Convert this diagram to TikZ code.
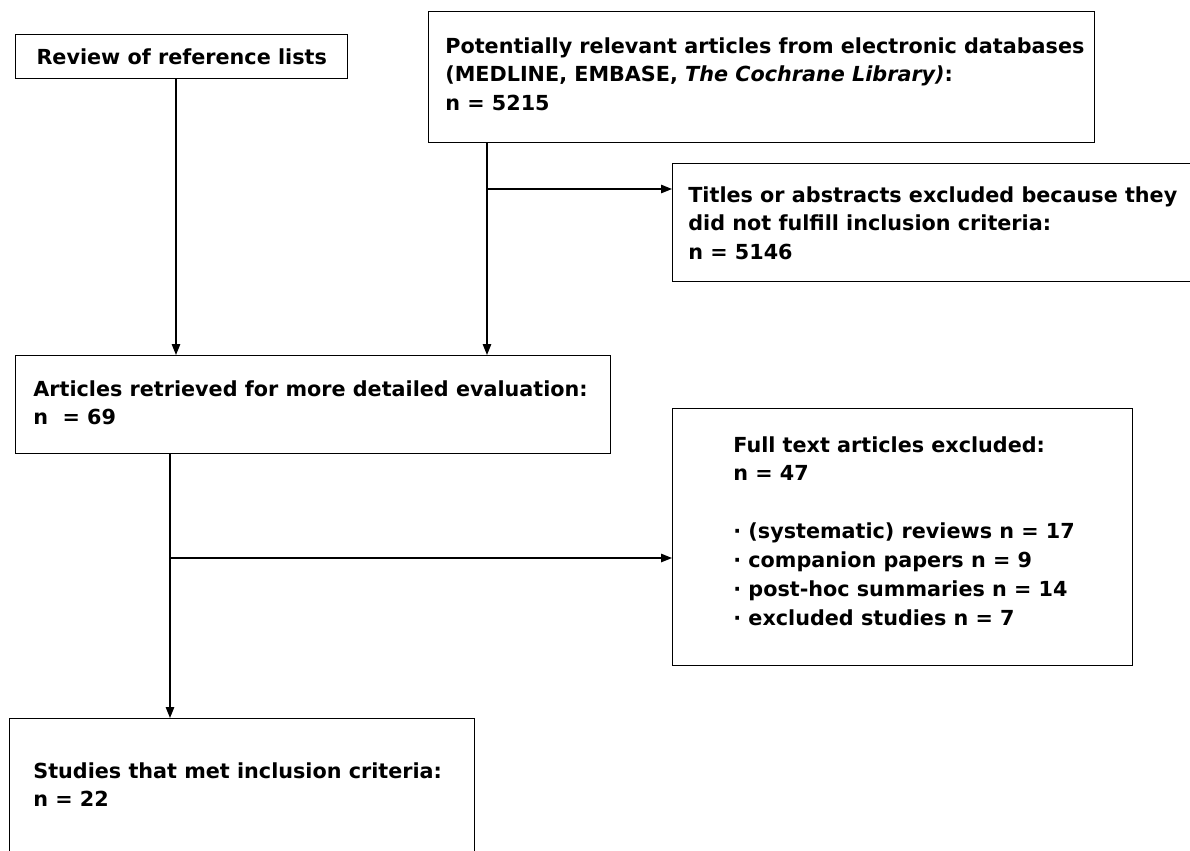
\documentclass[tikz,border=0pt]{standalone}
\usepackage{fontspec}
\setmainfont{DejaVu Sans}
\usepackage{tikz}
\usetikzlibrary{calc,arrows.meta,positioning}
\newcommand{\px}{0.02cm}
\tikzset{
  box/.style={draw=black,line width=0.8pt,inner sep=0pt,anchor=north west},
  txt/.style={anchor=north west,inner sep=0pt,align=left,font=\bfseries\fontsize{11.8}{16.4}\selectfont},
  ar/.style={-{Triangle[length=2.2mm,width=1.7mm]},line width=0.75pt}
}

\begin{document}
\begin{tikzpicture}[x=0.02cm,y=-0.02cm]
\useasboundingbox (0,0) rectangle (1190,850);
\clip (0,0) rectangle (1190,850);
% boxes
\node[box,minimum width=332*\px,minimum height=44*\px,font=\bfseries\fontsize{11.8}{16.4}\selectfont] (revw) at (15,34) {Review of reference lists};
\node[box,minimum width=666*\px,minimum height=131*\px] (srch) at (428,11) {};
\node[box,minimum width=540*\px,minimum height=118*\px] (titl) at (672,163) {};
\node[box,minimum width=595*\px,minimum height=98*\px] (arts) at (15,355) {};
\node[box,minimum width=460*\px,minimum height=257*\px] (full) at (672,408) {};
\node[box,minimum width=465*\px,minimum height=160*\px] (stud) at (9,718) {};
% texts
\node[txt] (srch-t) at ($(srch.north west)+(17,26)$) {Potentially relevant articles from electronic databases\\(MEDLINE, EMBASE, \textit{The Cochrane Library)}:\\n = 5215};
\node[txt] (titl-t) at ($(titl.north west)+(16,23)$) {Titles or abstracts excluded because they\\did not fulfill inclusion criteria:\\n = 5146};
\node[txt] (arts-t) at ($(arts.north west)+(18,25)$) {Articles retrieved for more detailed evaluation:\\n\ \ = 69};
\node[txt] (full-t) at ($(full.north west)+(61,28)$) {Full text articles excluded:\\n = 47\\[16.4pt]· (systematic) reviews n = 17\\· companion papers n = 9\\· post-hoc summaries n = 14\\· excluded studies n = 7};
\node[txt] (stud-t) at ($(stud.north west)+(24,44)$) {Studies that met inclusion criteria:\\n = 22};
% connectors
\coordinate (ax) at (176,0);
\coordinate (bx) at (487,0);
\coordinate (cx) at (170,0);
\coordinate (tb) at (487,189);
\coordinate (eb) at (170,558);
\draw[ar] (revw.south -| ax) -- (arts.north -| ax);
\draw[ar] (srch.south -| bx) -- (arts.north -| bx);
\draw[ar] (tb) -- (tb -| titl.west);
\draw[ar] (arts.south -| cx) -- (stud.north -| cx);
\draw[ar] (eb) -- (eb -| full.west);
\end{tikzpicture}
\end{document}
